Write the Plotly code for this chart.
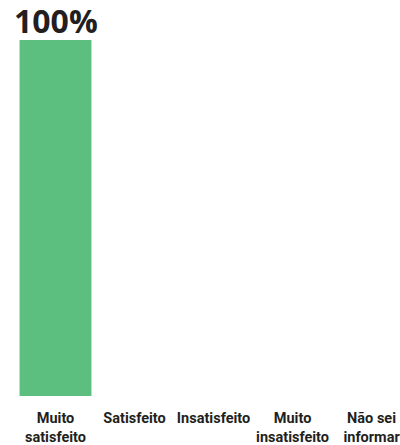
import plotly.graph_objects as go

categories = ["Muito<br>satisfeito", "Satisfeito", "Insatisfeito", "Muito<br>insatisfeito", "Não sei<br>informar"]
values = [100, 0, 0, 0, 0]
labels = ["100%", "", "", "", ""]

fig = go.Figure(go.Bar(
    x=categories, y=values,
    marker=dict(color="#5cbf7f", line=dict(width=0)),
    width=0.91, cliponaxis=False, hoverinfo="skip",
))
for c, v, t in zip(categories, values, labels):
    if t:
        fig.add_annotation(x=c, y=v, text=t, showarrow=False, yanchor="bottom", yshift=-4,
                           font=dict(family="Open Sans", size=32, color="#231f20", weight="bold"))
fig.update_layout(
    width=400, height=445, margin=dict(l=16, r=0, t=40, b=49, autoexpand=False),
    paper_bgcolor="white", plot_bgcolor="white", showlegend=False,
    xaxis=dict(range=[-0.5, 4.36], showgrid=False, zeroline=False, showline=False,
               tickangle=0, automargin=False,
               ticks="outside", ticklen=9, tickcolor="rgba(0,0,0,0)",
               tickfont=dict(family="Roboto", size=14.5, color="#231f20", weight="bold")),
    yaxis=dict(range=[0, 100], visible=False, automargin=False),
)
fig.write_html("out.html", config={"displayModeBar": False},
               post_script="document.body.style.margin='0px';")
